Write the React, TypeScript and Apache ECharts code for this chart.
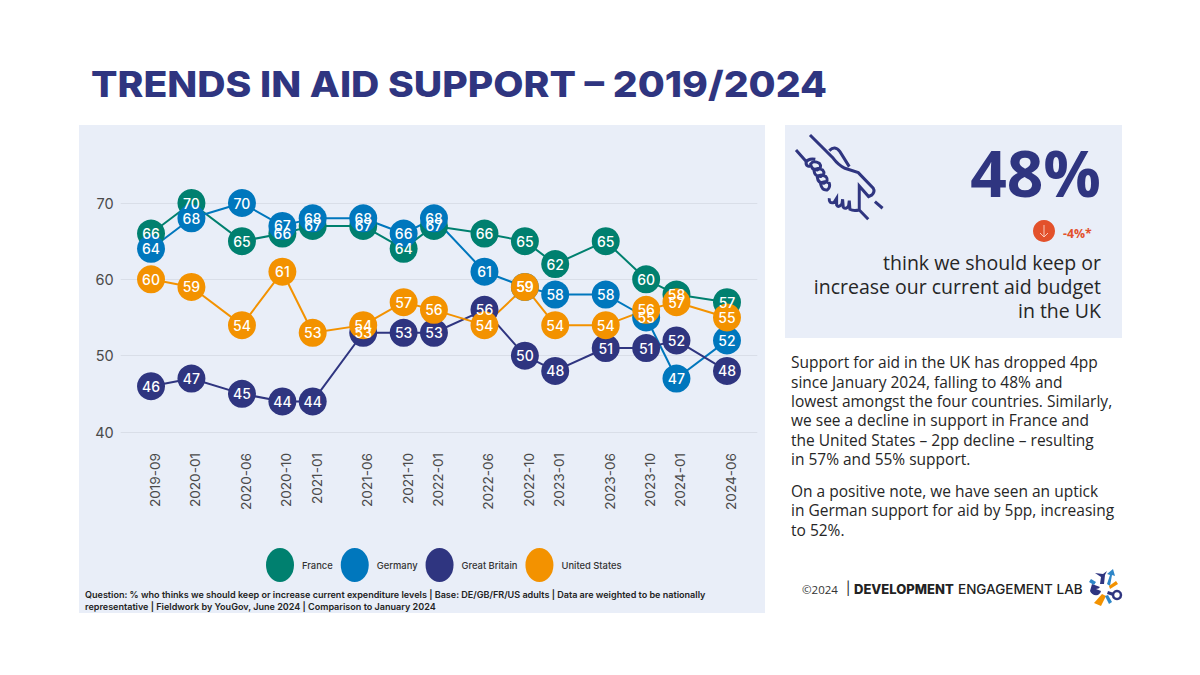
import React, { useEffect, useRef } from "react";
import * as echarts from "echarts";

const dates = ["2019-09","2020-01","2020-06","2020-10","2021-01","2021-06","2021-10","2022-01","2022-06","2022-10","2023-01","2023-06","2023-10","2024-01","2024-06"];
const france = [66,70,65,66,67,67,64,67,66,65,62,65,60,58,57];
const germany = [64,68,70,67,68,68,66,68,61,59,58,58,55,47,52];
const britain = [46,47,45,44,44,53,53,53,56,50,48,51,51,52,48];
const usa = [60,59,54,61,53,54,57,56,54,59,54,54,56,57,55];
const yTicks = [40,50,60,70];
const seriesNames = ["France","Germany","Great Britain","United States"];
const seriesColors = ["#00806F","#0077BD","#2F3580","#F39200"];
const seriesValues = [france,germany,britain,usa];

const monthIndex = (d: string) => {
  const [y, m] = d.split("-").map(Number);
  return (y - 2019) * 12 + (m - 9);
};
const xs = dates.map(monthIndex);
const labelByMonth = new Map(xs.map((x, i) => [x, dates[i]]));

const NAVY = "#2F3580";
const PANEL = "#E9EEF8";
const INK = "#262626";
const SANS = "'Open Sans','Noto Sans',sans-serif";
const WIDE = "Inter,'Noto Sans',sans-serif";

const bodyLines: [string, number][] = [
  ["Support for aid in the UK has dropped 4pp", 362],
  ["since January 2024, falling to 48% and", 382],
  ["lowest amongst the four countries. Similarly,", 401],
  ["we see a decline in support in France and", 420],
  ["the United States – 2pp decline – resulting", 440],
  ["in 57% and 55% support.", 459],
  ["On a positive note, we have seen an uptick", 491],
  ["in German support for aid by 5pp, increasing", 510],
  ["to 52%.", 530],
];
const calloutLines: [string, number][] = [
  ["think we should keep or", 262],
  ["increase our current aid budget", 286],
  ["in the UK", 310],
];

const HAND = "M60 15L130 85Q145 105 165 115L205 128L250 175Q256 185 246 195L236 200L208 168L208 240L235 268M118 62Q135 45 150 65L178 110M255 215L278 235M18 60L52 98M118 205Q116 222 132 218L140 205L140 225Q146 235 156 222L158 208L160 232Q168 240 176 228L178 212L180 238Q190 244 208 240M76 88Q55 84 48 98Q48 108 60 110M62 102Q70 90 88 100Q98 112 82 120Q64 120 62 102ZM72 122Q80 110 98 120Q108 132 92 140Q74 140 72 122ZM82 142Q90 130 108 140Q118 152 102 160Q84 160 82 142ZM92 162Q100 150 118 160Q122 172 112 180Q96 182 92 162Z";
const LOGO_A = "M1101 577L1095 573L1103 574L1107 571L1105 575L1104 584L1100 584Z";
const LOGO_B = "M1107 584L1110 575L1107 574L1113 569L1115 576L1112 575L1110 586Z";
const LOGO_C = "M1096 589Q1099 589 1100 587L1092 584L1090 591Q1092 596 1098 595Q1101 593 1101 591Z";
const LOGO_D = "M1102 594L1106 596L1101 606L1094 603Z";
const LOGO_E = "M1109 586L1116 581L1118 584L1110 589Z";
const LOGO_F = "M1108 591L1114 593L1113 596L1107 594Z";
const LOGO_G = "M1108 595L1112 602L1109 604L1105 596Z";
const LOGO_H = "M1091 579L1096 582L1094 585L1089 582Z";

export default function App() {
  const ref = useRef<HTMLDivElement>(null);
  useEffect(() => {
    echarts.graphic.registerShape("hand", echarts.graphic.extendPath(HAND, {}));
    [LOGO_A, LOGO_B, LOGO_C, LOGO_D, LOGO_E, LOGO_F, LOGO_G, LOGO_H].forEach((d, i) =>
      echarts.graphic.registerShape("logo" + i, echarts.graphic.extendPath(d, {}))
    );
    const chart = echarts.init(ref.current!, null, { renderer: "svg" });
    const logoColors = [NAVY, "#2E86C8", NAVY, "#F39200", "#F39200", NAVY, "#2E86C8", "#2E86C8"];
    chart.setOption({
      animation: false,
      backgroundColor: "#FFFFFF",
      grid: { left: 120.7, right: 1200 - 757.3, top: 203, height: 229, containLabel: false },
      xAxis: {
        type: "value",
        min: -3,
        max: 60,
        splitLine: { show: false },
        axisLine: { show: false },
        axisTick: { show: false },
        axisLabel: {
          customValues: xs,
          rotate: 90,
          margin: 21,
          color: "#4A4A4A",
          fontFamily: WIDE,
          fontSize: 13.6,
          verticalAlign: "top",
          lineHeight: 8,
          formatter: (v: number) => labelByMonth.get(v) ?? "",
        },
      },
      yAxis: {
        type: "value",
        min: 40,
        max: 70,
        interval: 10,
        axisLine: { show: false },
        axisTick: { show: false },
        splitLine: { lineStyle: { color: "#D9DEE8", width: 1 } },
        axisLabel: {
          customValues: yTicks,
          margin: 7,
          color: "#4A4A4A",
          fontFamily: WIDE,
          fontSize: 14.5,
        },
      },
      legend: {
        left: 266,
        top: 548,
        padding: 0,
        itemWidth: 28,
        itemHeight: 34,
        itemGap: 8,
        icon: "path://M50 0A50 50 0 1 1 50 100A50 50 0 1 1 50 0Z",
        symbolKeepAspect: false,
        textStyle: { fontFamily: WIDE, fontSize: 9.4, fontWeight: 500, color: "#333333", padding: [0, 0, 0, 3] },
        data: seriesNames,
      },
      series: seriesNames.map((name, i) => ({
        name,
        type: "line",
        data: xs.map((x, j) => [x, seriesValues[i][j]]),
        symbol: "circle",
        symbolSize: 28,
        showAllSymbol: true,
        lineStyle: { color: seriesColors[i], width: 2 },
        itemStyle: { color: seriesColors[i] },
        label: {
          show: true,
          position: "inside",
          color: "#FFFFFF",
          fontFamily: WIDE,
          fontSize: 14,
          fontWeight: 500,
          formatter: (p: any) => String(p.value[1]),
        },
        emphasis: { disabled: true },
      })),
      graphic: {
        elements: [
          { type: "rect", z: -10, silent: true, shape: { x: 79, y: 125, width: 686, height: 488 }, style: { fill: PANEL } },
          { type: "rect", z: -10, silent: true, shape: { x: 785, y: 125, width: 337, height: 213 }, style: { fill: PANEL } },
          { type: "text", x: 91, y: 84, scaleX: 1.088, style: { text: "TRENDS IN AID SUPPORT – 2019/2024", fill: NAVY, font: `800 36px ${WIDE}`, textVerticalAlign: "middle" } },
          { type: "hand", x: 790, y: 130, scaleX: 1 / 3, scaleY: 1 / 3, style: { fill: "none", stroke: NAVY, lineWidth: 9 } },
          { type: "text", x: 1101, y: 172, style: { text: "48%", fill: NAVY, font: `700 64px ${SANS}`, textAlign: "right", textVerticalAlign: "middle" } },
          { type: "circle", shape: { cx: 1044, cy: 231, r: 11 }, style: { fill: "#E3512B" } },
          { type: "line", shape: { x1: 1044, y1: 225, x2: 1044, y2: 237 }, style: { stroke: "#F8C9B8", lineWidth: 1 } },
          { type: "polyline", shape: { points: [[1040, 233], [1044, 237], [1048, 233]] }, style: { fill: "none", stroke: "#F8C9B8", lineWidth: 1 } },
          { type: "text", x: 1063, y: 233, style: { text: "-4%*", fill: "#E3512B", font: `700 12.3px ${SANS}`, textVerticalAlign: "middle" } },
          ...calloutLines.map(([text, y]) => ({ type: "text", x: 1101, y, style: { text, fill: INK, font: `400 19.5px ${SANS}`, textAlign: "right", textVerticalAlign: "middle" } })),
          ...bodyLines.map(([text, y]) => ({ type: "text", x: 791, y, style: { text, fill: INK, font: `400 15.5px ${SANS}`, textVerticalAlign: "middle" } })),
          { type: "text", x: 85, y: 594, style: { text: "Question: % who thinks we should keep or increase current expenditure levels | Base: DE/GB/FR/US adults | Data are weighted to be nationally", fill: "#222222", font: `600 9.05px ${WIDE}`, textVerticalAlign: "middle" } },
          { type: "text", x: 85, y: 606, style: { text: "representative | Fieldwork by YouGov, June 2024 | Comparison to January 2024", fill: "#222222", font: `600 9.05px ${WIDE}`, textVerticalAlign: "middle" } },
          { type: "text", x: 802, y: 589, style: { text: "©2024", fill: "#333333", font: `500 11.5px ${SANS}`, textVerticalAlign: "middle" } },
          { type: "text", x: 846, y: 588, style: { text: "|", fill: "#222222", font: `400 13px ${WIDE}`, textVerticalAlign: "middle" } },
          { type: "text", x: 854, y: 589, style: { text: "DEVELOPMENT", fill: "#222222", font: `800 13px ${WIDE}`, textVerticalAlign: "middle" } },
          { type: "text", x: 958, y: 589, style: { text: "ENGAGEMENT LAB", fill: "#222222", font: `500 13.5px ${WIDE}`, textVerticalAlign: "middle" } },
          ...logoColors.map((fill, i) => ({ type: "logo" + i, style: { fill } })),
          { type: "circle", shape: { cx: 1117, cy: 595, r: 4 }, style: { fill: "#FFFFFF", stroke: NAVY, lineWidth: 2.5 } },
        ],
      },
    });
    return () => chart.dispose();
  }, []);
  return <div ref={ref} style={{ position: "fixed", left: 0, top: 0, width: 1200, height: 675 }} />;
}
